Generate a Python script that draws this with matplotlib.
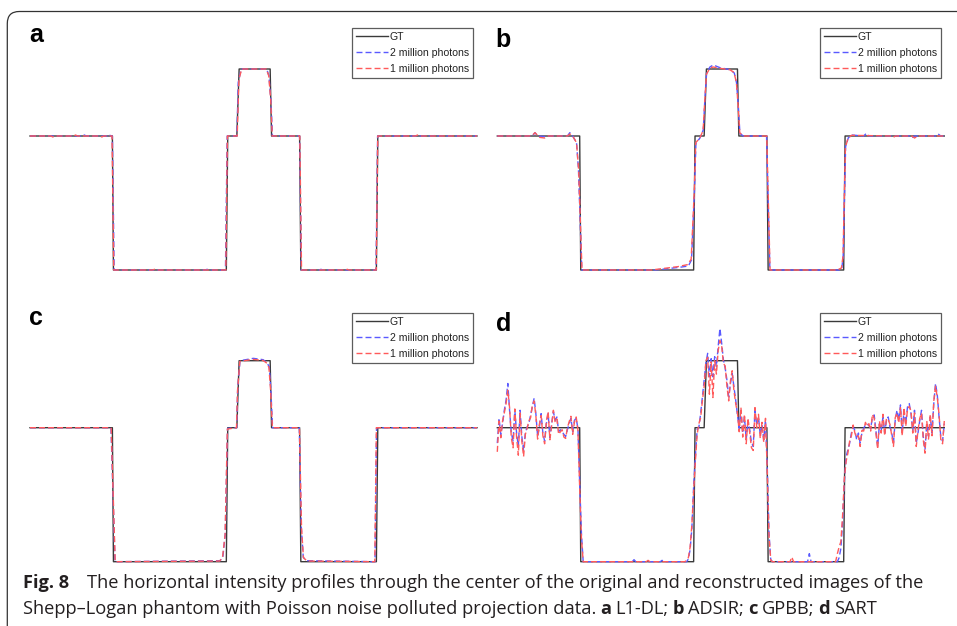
import numpy as np
import matplotlib
matplotlib.use("Agg")
import matplotlib.pyplot as plt
from matplotlib.patches import FancyBboxPatch
from matplotlib.transforms import IdentityTransform
from matplotlib import font_manager

# ---------------- DATA ----------------
series_labels = ["GT", "2 million photons", "1 million photons"]
panel_letters = ["a", "b", "c", "d"]

# ground truth profile (sample index, intensity)
gt_x = [0, 47, 47.6, 112, 112.8, 118, 119.3, 137, 137.8, 153.8, 154.5, 197.6, 198.4, 255]
gt_y = [0.2, 0.2, 0.0, 0.0, 0.2, 0.2, 0.3, 0.3, 0.2, 0.2, 0.0, 0.0, 0.2, 0.2]

# (a) L1-DL
a_blue_x = [0, 8, 9, 10, 30, 31, 32, 44, 45, 46, 47, 48, 60, 61, 62, 100, 101, 102, 111.5, 112.5,
            118, 118.8, 120.5, 135, 136.3, 137.5, 138.3, 153.8, 154.8, 165, 166, 167, 197.4, 198.3,
            205, 206, 207, 230, 231, 232, 255]
a_blue_y = [0.2, 0.2, 0.201, 0.2, 0.2, 0.2015, 0.2, 0.2, 0.2025, 0.2, 0.2, 0.0, 0.0, 0.001, 0.0,
            0.0, 0.001, 0.0, 0.0, 0.2, 0.2, 0.28, 0.3, 0.3, 0.29, 0.25, 0.2, 0.2, 0.0, 0.0, 0.001,
            0.0, 0.0, 0.2, 0.2, 0.202, 0.2, 0.2, 0.201, 0.2, 0.2]
a_red_x = [0, 12, 13, 14, 25, 26, 27, 40, 41, 42, 46.8, 47.8, 70, 71, 72, 111.7, 112.6, 118.2, 119.2,
           120.8, 134.8, 136.2, 137.3, 138.2, 153.9, 154.9, 180, 181, 182, 197.5, 198.4, 220, 221,
           222, 255]
a_red_y = [0.2, 0.2, 0.1985, 0.2, 0.2, 0.2015, 0.2, 0.2, 0.1985, 0.2, 0.2, 0.0, 0.0, 0.001, 0.0,
           0.0, 0.2, 0.2, 0.285, 0.3, 0.3, 0.29, 0.255, 0.2, 0.2, 0.0, 0.0, 0.001, 0.0, 0.0, 0.2,
           0.2, 0.2015, 0.2, 0.2]

# (b) ADSIR
b_blue_x = [0, 20, 21.5, 23, 28, 30, 40, 41.4, 43, 45.2, 46.3, 48.2, 90, 104, 109, 110.8, 112.5,
            113.3, 115.6, 117.5, 118.4, 119.4, 121.3, 123.2, 127, 132.7, 135.2, 136.5, 137.5, 138.4,
            140.3, 153.6, 155.5, 195, 196.5, 197.3, 198.7, 200.2, 202, 209, 210.6, 212, 236, 237,
            238, 250, 251.5, 253, 255]
b_blue_y = [0.2, 0.2, 0.205, 0.2, 0.199, 0.2, 0.2, 0.205, 0.2, 0.19, 0.15, 0.0, 0.0, 0.004, 0.006,
            0.015, 0.12, 0.189, 0.197, 0.209, 0.254, 0.294, 0.303, 0.306, 0.302, 0.299, 0.294,
            0.279, 0.244, 0.204, 0.2, 0.2, 0.0, 0.0, 0.002, 0.02, 0.184, 0.197, 0.2015, 0.2, 0.204,
            0.2, 0.2, 0.198, 0.2, 0.2, 0.203, 0.2, 0.2]
b_red_x = [0, 18, 20, 21.5, 24, 27, 29, 40, 41.5, 43, 45.2, 46.4, 48.3, 88, 103, 108.5, 110.6,
           112.4, 113.2, 115.5, 117.4, 118.3, 119.3, 121.2, 123.1, 127, 132.6, 135, 136.4, 137.4,
           138.3, 140.2, 153.7, 155.6, 194, 196.3, 197.2, 198.6, 200, 202, 225, 226, 227, 236.5,
           238, 240, 255]
b_red_y = [0.2, 0.2, 0.201, 0.205, 0.198, 0.197, 0.2, 0.2, 0.203, 0.2, 0.19, 0.15, 0.0, 0.0, 0.005,
           0.008, 0.016, 0.12, 0.19, 0.197, 0.208, 0.25, 0.292, 0.301, 0.303, 0.301, 0.299, 0.295,
           0.28, 0.245, 0.205, 0.2, 0.2, 0.0, 0.0, 0.003, 0.02, 0.183, 0.196, 0.201, 0.2, 0.198,
           0.2, 0.2, 0.197, 0.2, 0.2]

# (c) GPBB
c_blue_x = [0, 46.2, 48.5, 108.4, 110, 111.4, 112.7, 117.9, 118.5, 119.8, 127.4, 133, 135, 136.5,
            137.3, 138.4, 153.6, 154.8, 155.9, 157.8, 196.8, 197.7, 255]
c_blue_y = [0.2, 0.2, 0.0, 0.0015, 0.0065, 0.042, 0.199, 0.2, 0.26, 0.3, 0.3035, 0.3015, 0.2975,
            0.291, 0.261, 0.2, 0.2, 0.05, 0.0065, 0.0015, 0.0, 0.2, 0.2]
c_red_x = [0, 46.3, 48.6, 108.2, 109.8, 111.3, 112.6, 117.8, 118.4, 119.7, 127.2, 132.8, 134.8,
           136.3, 137.2, 138.3, 153.7, 154.9, 156, 158, 196.7, 197.6, 255]
c_red_y = [0.2, 0.2, 0.0, 0.001, 0.006, 0.04, 0.198, 0.2, 0.255, 0.299, 0.302, 0.3005, 0.297,
           0.29, 0.258, 0.2, 0.2, 0.05, 0.006, 0.001, 0.0, 0.2, 0.2]

# (d) SART : noisy segments (one value per sample) + valley breakpoints
d_blue_left = [0.177, 0.214, 0.190, 0.206, 0.226, 0.241, 0.266, 0.226, 0.192, 0.180,
               0.226, 0.192, 0.172, 0.226, 0.187, 0.165, 0.192, 0.201, 0.206, 0.219,
               0.231, 0.244, 0.221, 0.187, 0.201, 0.221, 0.192, 0.180, 0.206, 0.221,
               0.185, 0.206, 0.224, 0.211, 0.216, 0.194, 0.197, 0.194, 0.190, 0.187,
               0.197, 0.206, 0.214, 0.194, 0.211, 0.214, 0.199]
d_red_left = [0.164, 0.210, 0.185, 0.210, 0.222, 0.236, 0.256, 0.230, 0.185, 0.170,
              0.228, 0.186, 0.159, 0.222, 0.180, 0.157, 0.190, 0.199, 0.210, 0.215,
              0.234, 0.240, 0.218, 0.183, 0.205, 0.218, 0.188, 0.176, 0.210, 0.224,
              0.182, 0.203, 0.226, 0.208, 0.213, 0.190, 0.194, 0.197, 0.186, 0.184,
              0.200, 0.209, 0.217, 0.190, 0.208, 0.216, 0.196]
d_blue_v1_x = [47, 48, 49, 77, 78, 79, 93, 94, 95, 108, 109, 110, 111]
d_blue_v1_y = [0.117, 0.042, 0.0, 0.0, 0.003, 0.0, 0.0, 0.002, 0.0, 0.0, 0.004, 0.018, 0.05]
d_red_v1_x = [47, 48, 49, 85, 86, 87, 107, 108, 109, 110, 111]
d_red_v1_y = [0.110, 0.035, 0.0, 0.0, 0.002, 0.0, 0.0, 0.002, 0.006, 0.022, 0.055]
d_blue_top = [0.112, 0.157, 0.197, 0.201, 0.221, 0.246, 0.271, 0.296, 0.311, 0.276,
              0.303, 0.276, 0.306, 0.291, 0.321, 0.348, 0.326, 0.301, 0.289, 0.271,
              0.246, 0.266, 0.281, 0.261, 0.241, 0.219, 0.199, 0.226, 0.192, 0.216,
              0.182, 0.211, 0.197, 0.177, 0.172, 0.226, 0.204, 0.216, 0.189, 0.204,
              0.182, 0.211]
d_red_top = [0.105, 0.150, 0.190, 0.206, 0.215, 0.240, 0.262, 0.300, 0.305, 0.250,
             0.298, 0.245, 0.300, 0.280, 0.315, 0.330, 0.322, 0.296, 0.292, 0.262,
             0.240, 0.270, 0.285, 0.255, 0.236, 0.222, 0.194, 0.230, 0.186, 0.220,
             0.176, 0.214, 0.192, 0.170, 0.166, 0.230, 0.200, 0.220, 0.184, 0.208,
             0.178, 0.214]
d_blue_v2_x = [154, 155, 156, 157, 177, 178, 179, 194, 195, 196, 197, 198]
d_blue_v2_y = [0.142, 0.042, 0.003, 0.0, 0.0, 0.012, 0.0, 0.0, 0.006, 0.02, 0.06, 0.12]
d_red_v2_x = [154, 155, 156, 157, 167, 168, 169, 193, 194, 195, 196, 197, 198]
d_red_v2_y = [0.135, 0.038, 0.002, 0.0, 0.0, 0.007, 0.0, 0.0, 0.012, 0.022, 0.03, 0.07, 0.125]
d_blue_right = [0.157, 0.167, 0.177, 0.192, 0.201, 0.196, 0.182, 0.192, 0.177, 0.192,
                0.199, 0.204, 0.206, 0.203, 0.199, 0.216, 0.219, 0.196, 0.172, 0.206,
                0.196, 0.216, 0.192, 0.211, 0.216, 0.201, 0.192, 0.177, 0.211, 0.226,
                0.211, 0.234, 0.192, 0.226, 0.206, 0.231, 0.236, 0.221, 0.196, 0.226,
                0.177, 0.192, 0.211, 0.226, 0.187, 0.167, 0.206, 0.187, 0.216, 0.192,
                0.236, 0.266, 0.249, 0.216, 0.187, 0.180, 0.206]
d_red_right = [0.150, 0.162, 0.180, 0.188, 0.204, 0.192, 0.185, 0.188, 0.172, 0.196,
               0.195, 0.208, 0.202, 0.206, 0.195, 0.220, 0.214, 0.192, 0.168, 0.210,
               0.192, 0.220, 0.188, 0.214, 0.212, 0.205, 0.188, 0.172, 0.215, 0.222,
               0.207, 0.230, 0.188, 0.230, 0.202, 0.227, 0.232, 0.225, 0.192, 0.222,
               0.172, 0.196, 0.214, 0.222, 0.182, 0.162, 0.210, 0.183, 0.220, 0.188,
               0.240, 0.262, 0.245, 0.220, 0.182, 0.176, 0.210]

caption_line1 = [("Fig. 8", "bold"), ("The horizontal intensity profiles through the center of the "
                 "original and reconstructed images of the", "normal")]
caption_line2 = [("Shepp\u2013Logan phantom with Poisson noise polluted projection data.", "normal"),
                 ("a", "bold"), ("L1-DL;", "normal"), ("b", "bold"), ("ADSIR;", "normal"),
                 ("c", "bold"), ("GPBB;", "normal"), ("d", "bold"), ("SART", "normal")]


def assemble(left, v1x, v1y, top, v2x, v2y, right):
    x = list(np.arange(0, len(left))) + v1x + list(np.arange(112, 112 + len(top))) + v2x + \
        list(np.arange(199, 199 + len(right)))
    y = left + v1y + top + v2y + right
    return x, y


d_blue_x, d_blue_y = assemble(d_blue_left, d_blue_v1_x, d_blue_v1_y, d_blue_top,
                              d_blue_v2_x, d_blue_v2_y, d_blue_right)
d_red_x, d_red_y = assemble(d_red_left, d_red_v1_x, d_red_v1_y, d_red_top,
                            d_red_v2_x, d_red_v2_y, d_red_right)

panels = [
    ((a_blue_x, a_blue_y), (a_red_x, a_red_y)),
    ((b_blue_x, b_blue_y), (b_red_x, b_red_y)),
    ((c_blue_x, c_blue_y), (c_red_x, c_red_y)),
    ((d_blue_x, d_blue_y), (d_red_x, d_red_y)),
]

# ---------------- LAYOUT ----------------
W, H = 957, 626
fig = plt.figure(figsize=(W / 100, H / 100), dpi=100)
fig.patch.set_facecolor("white")

S = 447 / 255.0   # px per sample
K = 670.0         # px per intensity unit
panel_origin = [(30, 136), (497.3, 136), (30, 427.7), (497.3, 427.7)]
legend_anchor = [(473, 28), (941, 28), (473, 313), (941, 313)]
letter_pos = [(29, 41.7), (495, 46.7), (29, 325), (496, 330.7)]

GT_COLOR = "#3a3a3a"
BLUE = "#5a5aff"
RED = "#ff5a5a"
XL = (-3, 258)
YL = (-0.04, 0.37)

for k, ((bx, by), (rx, ry)) in enumerate(panels):
    x0, base = panel_origin[k]
    left = x0 + XL[0] * S
    width = (XL[1] - XL[0]) * S
    top = base - (YL[1] - 0.2) * K
    bottom = base + (0.2 - YL[0]) * K
    ax = fig.add_axes([left / W, 1 - bottom / H, width / W, (bottom - top) / H])
    ax.set_xlim(XL)
    ax.set_ylim(YL)
    ax.axis("off")
    ax.patch.set_alpha(0)
    l1, = ax.plot(gt_x, gt_y, color=GT_COLOR, lw=1.0, label=series_labels[0])
    l2, = ax.plot(bx, by, color=BLUE, lw=1.0, dashes=(4.3, 2.2), label=series_labels[1])
    l3, = ax.plot(rx, ry, color=RED, lw=1.0, dashes=(4.3, 2.2), label=series_labels[2])
    lx, ly = legend_anchor[k]
    leg = ax.legend(handles=[l1, l2, l3], loc="upper right",
                    bbox_to_anchor=(lx / W, 1 - ly / H), bbox_transform=fig.transFigure,
                    borderaxespad=0, fancybox=False, frameon=True, handlelength=3.1,
                    handletextpad=0.15, labelspacing=0.55, borderpad=0.38,
                    prop={"family": "Liberation Sans", "size": 7.6})
    leg.get_frame().set_edgecolor("#333333")
    leg.get_frame().set_linewidth(0.9)
    for t in leg.get_texts():
        t.set_color("#222222")
    px, py = letter_pos[k]
    fig.text(px / W, 1 - py / H, panel_letters[k], fontsize=18, fontweight="bold",
             family="Liberation Sans", va="baseline", ha="left", color="black")

# frame (top + left with rounded corner)
frame = FancyBboxPatch((7.3, -60), 1200, (H - 11.5) + 60,
                       boxstyle="round,pad=0,rounding_size=12",
                       transform=IdentityTransform(), fill=False,
                       edgecolor="#333333", linewidth=0.9)
fig.add_artist(frame)

# caption
names = {f.name for f in font_manager.fontManager.ttflist}
cap_family = "Open Sans" if "Open Sans" in names else "DejaVu Sans"
CAP_COLOR = "#231f20"
fig.canvas.draw()
renderer = fig.canvas.get_renderer()


def text_width(s, weight, size):
    t = fig.text(0, 0, s, fontsize=size, fontweight=weight, family=cap_family)
    w = t.get_window_extent(renderer=renderer).width
    t.remove()
    return w


base_size = 13.0
gap_fig = 0.95  # em gap after "Fig. 8"
w1 = text_width(caption_line1[0][0], "bold", base_size) + gap_fig * base_size * 100 / 72 + \
    text_width(caption_line1[1][0], "normal", base_size)
cap_size = base_size * (920 - 23.3) / w1
space_px = 0.22 * cap_size * 100 / 72


def draw_line(runs, y, gaps):
    x = 23.3
    for (s, wt), g in zip(runs, gaps):
        fig.text(x / W, 1 - y / H, s, fontsize=cap_size, fontweight=wt, family=cap_family,
                 va="baseline", ha="left", color=CAP_COLOR)
        x += text_width(s, wt, cap_size) + g


draw_line(caption_line1, 588.3, [gap_fig * cap_size * 100 / 72, 0])
draw_line(caption_line2, 614, [space_px] * len(caption_line2))

fig.savefig("out.png", dpi=100, facecolor="white")
